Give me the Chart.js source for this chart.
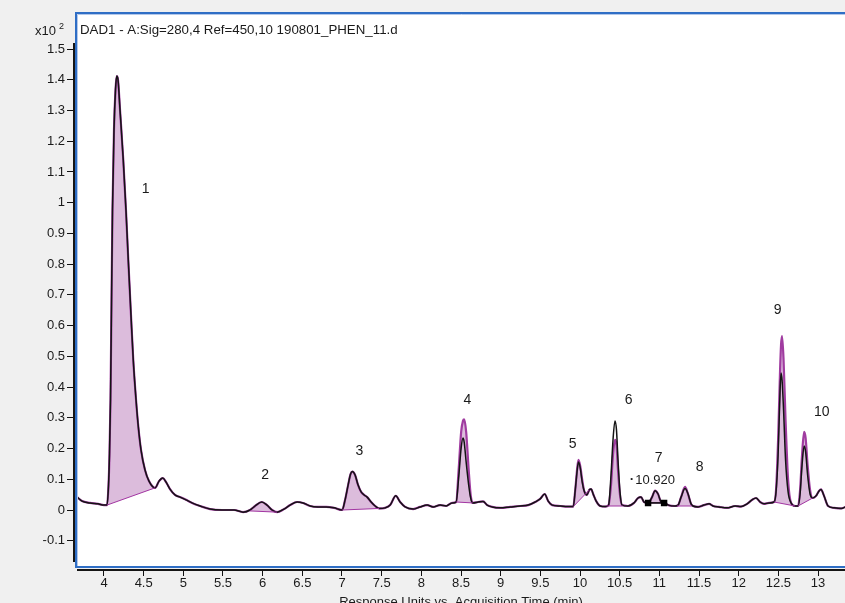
<!DOCTYPE html>
<html><head><meta charset="utf-8">
<script src="https://cdn.jsdelivr.net/npm/chart.js@4.4.1/dist/chart.umd.min.js"></script>
<style>html,body{margin:0;padding:0;background:#f0f0f0;}canvas{display:block;}</style>
</head><body>
<canvas id="c" width="845" height="603"></canvas>
<script>
// ---- data ----
const times = [
 3.660,3.723,3.823,3.924,4.000,4.038,4.057,4.069,4.082,4.095,
 4.107,4.126,4.145,4.160,4.177,4.202,4.243,4.277,4.306,4.340,
 4.369,4.404,4.433,4.467,4.517,4.567,4.643,4.694,4.740,4.782,
 4.832,4.895,4.958,5.034,5.110,5.211,5.337,5.488,5.639,5.753,
 5.841,5.904,5.989,6.055,6.119,6.182,6.270,6.346,6.434,6.509,
 6.598,6.699,6.800,6.900,7.001,7.039,7.077,7.108,7.131,7.165,
 7.203,7.241,7.279,7.317,7.367,7.418,7.468,7.544,7.607,7.678,
 7.733,7.796,7.897,7.985,8.073,8.149,8.237,8.313,8.388,8.439,
 8.470,8.502,8.525,8.540,8.565,8.597,8.622,8.647,8.716,8.779,
 8.830,8.893,8.994,9.120,9.246,9.347,9.435,9.498,9.555,9.599,
 9.650,9.751,9.839,9.915,9.940,9.965,9.981,10.003,10.028,10.053,
 10.087,10.116,10.141,10.166,10.204,10.255,10.318,10.360,10.391,10.416,
 10.441,10.460,10.479,10.504,10.530,10.605,10.681,10.731,10.769,10.807,
 10.858,10.908,10.946,10.984,11.022,11.060,11.123,11.198,11.236,11.274,
 11.324,11.362,11.400,11.425,11.488,11.564,11.627,11.677,11.753,11.854,
 11.955,12.030,12.106,12.169,12.219,12.270,12.320,12.383,12.446,12.471,
 12.497,12.522,12.534,12.547,12.566,12.591,12.623,12.661,12.711,12.749,
 12.774,12.799,12.825,12.844,12.869,12.900,12.932,12.976,13.013,13.038,
 13.076,13.127,13.202,13.291,13.354
];
const purpleSignal = [
 0.042,0.029,0.023,0.020,0.016,0.016,0.081,0.179,0.358,0.683,
 0.976,1.237,1.367,1.412,1.399,1.302,1.139,0.976,0.814,0.635,
 0.488,0.358,0.270,0.195,0.130,0.094,0.072,0.094,0.104,0.091,
 0.068,0.049,0.042,0.033,0.023,0.013,0.003,0.000,0.000,-0.007,
 0.000,0.013,0.026,0.016,0.000,-0.007,0.003,0.016,0.026,0.023,
 0.013,0.010,0.010,0.007,0.000,0.033,0.081,0.117,0.125,0.114,
 0.081,0.059,0.049,0.042,0.026,0.013,0.005,0.007,0.016,0.046,
 0.026,0.010,0.003,0.010,0.016,0.010,0.016,0.013,0.023,0.026,
 0.130,0.254,0.290,0.295,0.254,0.130,0.049,0.023,0.026,0.028,
 0.016,0.010,0.007,0.010,0.013,0.016,0.026,0.036,0.052,0.029,
 0.016,0.013,0.011,0.011,0.065,0.137,0.163,0.143,0.098,0.062,
 0.049,0.065,0.068,0.052,0.029,0.013,0.011,0.016,0.081,0.179,
 0.228,0.212,0.130,0.049,0.016,0.013,0.023,0.039,0.042,0.026,
 0.023,0.042,0.063,0.052,0.026,0.023,0.015,0.013,0.016,0.042,
 0.075,0.052,0.020,0.013,0.010,0.016,0.020,0.013,0.010,0.007,
 0.013,0.011,0.020,0.033,0.039,0.026,0.020,0.023,0.026,0.065,
 0.228,0.456,0.537,0.566,0.488,0.293,0.098,0.023,0.013,0.013,
 0.065,0.179,0.254,0.234,0.146,0.065,0.039,0.046,0.062,0.067,
 0.046,0.013,0.007,0.005,0.011
];
const blackSignal = [
 0.042,0.029,0.023,0.020,0.016,0.016,0.081,0.179,0.358,0.683,
 0.976,1.237,1.367,1.412,1.399,1.302,1.139,0.976,0.814,0.635,
 0.488,0.358,0.270,0.195,0.130,0.094,0.072,0.094,0.104,0.091,
 0.068,0.049,0.042,0.033,0.023,0.013,0.003,0.000,0.000,-0.007,
 0.000,0.013,0.026,0.016,0.000,-0.007,0.003,0.016,0.026,0.023,
 0.013,0.010,0.010,0.007,0.000,0.033,0.081,0.117,0.125,0.114,
 0.081,0.059,0.049,0.042,0.026,0.013,0.005,0.007,0.016,0.046,
 0.026,0.010,0.003,0.010,0.016,0.010,0.016,0.013,0.023,0.026,
 0.104,0.202,0.234,0.221,0.156,0.081,0.039,0.023,0.026,0.028,
 0.016,0.010,0.007,0.010,0.013,0.016,0.026,0.036,0.052,0.029,
 0.016,0.013,0.011,0.011,0.065,0.130,0.156,0.137,0.091,0.062,
 0.049,0.065,0.068,0.052,0.029,0.013,0.011,0.016,0.114,0.228,
 0.290,0.260,0.163,0.059,0.016,0.013,0.023,0.039,0.042,0.026,
 0.023,0.042,0.063,0.052,0.026,0.023,0.015,0.013,0.016,0.042,
 0.070,0.052,0.020,0.013,0.010,0.016,0.020,0.013,0.010,0.007,
 0.013,0.011,0.020,0.033,0.039,0.026,0.020,0.023,0.026,0.059,
 0.179,0.390,0.446,0.423,0.325,0.163,0.059,0.023,0.013,0.013,
 0.052,0.146,0.208,0.189,0.114,0.052,0.039,0.046,0.062,0.067,
 0.046,0.013,0.007,0.005,0.011
];
const xTickValues = [4,4.5,5,5.5,6,6.5,7,7.5,8,8.5,9,9.5,10,10.5,11,11.5,12,12.5,13];
const yTickValues = [-0.1,0,0.1,0.2,0.3,0.4,0.5,0.6,0.7,0.8,0.9,1,1.1,1.2,1.3,1.4,1.5];
const peakNames  = ['1','2','3','4','5','6','7','8','9','10'];
const peakLabelX = [4.524,6.03,7.219,8.581,9.906,10.612,10.990,11.507,12.49,13.047];
const peakLabelY = [1.043,0.114,0.190,0.358,0.215,0.356,0.168,0.139,0.649,0.320];
const baseStartX = [4.038,5.841,7.001,8.439,9.915,10.337,10.858,11.222,12.446,12.749];
const baseStartY = [0.016,-0.003,0.000,0.026,0.011,0.013,0.023,0.013,0.026,0.013];
const baseEndX   = [4.643,6.182,7.468,8.647,10.116,10.539,11.060,11.411,12.711,12.932];
const baseEndY   = [0.072,-0.007,0.005,0.023,0.065,0.013,0.023,0.013,0.013,0.039];
const markerX = [10.858, 11.060];
const markerY = [0.023, 0.023];
const rtLabel = '10.920', rtLabelX = 10.946, rtLabelY = 0.095, rtDotX = 10.652, rtDotY = 0.101;
const chartTitle = 'DAD1 - A:Sig=280,4 Ref=450,10 190801_PHEN_11.d';
const xAxisTitle = 'Response Units vs. Acquisition Time (min)';
const yMultiplier = 'x10', yExponent = '2';

// ---- build datasets ----
const baselineData = [];
peakNames.forEach((n, i) => {
  baselineData.push({x: baseStartX[i], y: baseStartY[i]}, {x: baseEndX[i], y: baseEndY[i]});
  if (i < peakNames.length - 1) baselineData.push({x: (baseEndX[i] + baseStartX[i + 1]) / 2, y: null});
});
const FONT = "'Liberation Sans', Arial, sans-serif";

const decor = {
  id: 'decor',
  beforeDraw(chart) {
    const {ctx, chartArea: a} = chart;
    ctx.save();
    ctx.fillStyle = '#f0f0f0';
    ctx.fillRect(0, 0, chart.width, chart.height);
    ctx.fillStyle = '#ffffff';
    ctx.fillRect(a.left, a.top, a.right - a.left, a.bottom - a.top);
    ctx.restore();
  },
  afterDraw(chart) {
    const {ctx, chartArea: a} = chart;
    const xs = chart.scales.x, ys = chart.scales.y;
    ctx.save();
    // axis lines (outside the frame)
    ctx.strokeStyle = '#151515'; ctx.lineWidth = 2;
    ctx.beginPath(); ctx.moveTo(a.left - 3, ys.getPixelForValue(1.5) - 6); ctx.lineTo(a.left - 3, a.bottom - 4); ctx.stroke();
    ctx.beginPath(); ctx.moveTo(a.left, a.bottom + 4); ctx.lineTo(a.right, a.bottom + 4); ctx.stroke();
    // frame
    ctx.strokeStyle = '#b3c8ea'; ctx.lineWidth = 1;
    ctx.beginPath(); ctx.moveTo(a.left + 0.5, a.bottom); ctx.lineTo(a.left + 0.5, a.top + 0.5); ctx.lineTo(a.right, a.top + 0.5); ctx.stroke();
    ctx.strokeStyle = '#2f6ec5'; ctx.lineWidth = 2;
    ctx.beginPath(); ctx.moveTo(a.right, a.top - 1); ctx.lineTo(a.left - 1, a.top - 1); ctx.lineTo(a.left - 1, a.bottom + 1); ctx.lineTo(a.right, a.bottom + 1); ctx.stroke();
    // texts
    ctx.fillStyle = '#1a1a1a';
    ctx.textBaseline = 'middle';
    ctx.textAlign = 'left';
    ctx.font = '13.3px ' + FONT;
    ctx.fillText(chartTitle, a.left + 3, 30);
    ctx.font = '13px ' + FONT;
    ctx.textAlign = 'right';
    ctx.fillText(yMultiplier, 56, 31);
    ctx.textAlign = 'left';
    ctx.font = '9px ' + FONT;
    ctx.fillText(yExponent, 59, 27);
    ctx.textAlign = 'center';
    ctx.font = '14px ' + FONT;
    peakNames.forEach((n, i) => {
      ctx.fillText(n, xs.getPixelForValue(peakLabelX[i]), ys.getPixelForValue(peakLabelY[i]));
    });
    ctx.font = '13px ' + FONT;
    ctx.fillText(rtLabel, xs.getPixelForValue(rtLabelX), ys.getPixelForValue(rtLabelY));
    ctx.font = '8px ' + FONT;
    ctx.fillText('•', xs.getPixelForValue(rtDotX), ys.getPixelForValue(rtDotY));
    ctx.restore();
  }
};

new Chart(document.getElementById('c'), {
  type: 'line',
  data: {
    datasets: [
      {label: 'RT marker', data: markerX.map((x, i) => ({x, y: markerY[i]})), borderColor: '#000', borderWidth: 1.5,
       pointStyle: 'rect', pointRadius: 3.5, pointBackgroundColor: '#000', pointBorderColor: '#000', fill: false, tension: 0},
      {label: 'Baselines', data: baselineData, borderColor: '#a235a2', borderWidth: 1, pointRadius: 0, tension: 0,
       spanGaps: false, fill: false},
      {label: 'Trace 2', data: times.map((t, i) => ({x: t, y: blackSignal[i]})), borderColor: '#141414', borderWidth: 1.5,
       pointRadius: 0, cubicInterpolationMode: 'monotone', fill: false},
      {label: 'Trace 1', data: times.map((t, i) => ({x: t, y: purpleSignal[i]})), borderColor: '#a03ca0', borderWidth: 2.2,
       pointRadius: 0, cubicInterpolationMode: 'monotone', fill: 1, backgroundColor: '#dcbcdc'}
    ]
  },
  options: {
    responsive: false, animation: false, devicePixelRatio: 1,
    layout: {autoPadding: false, padding: {top: 14, left: 0, right: 0, bottom: 0}},
    plugins: {legend: {display: false}, tooltip: {enabled: false}, title: {display: false}},
    scales: {
      x: {
        type: 'linear', min: 3.6597, max: 13.3403, bounds: 'data',
        afterFit: s => { s.height = 37; s.paddingLeft = 0; s.paddingRight = 0; },
        afterBuildTicks: s => { s.ticks = xTickValues.map(v => ({value: v})); },
        border: {display: false},
        grid: {drawOnChartArea: false, drawTicks: true, tickLength: 10, tickColor: '#111', tickWidth: 1, tickBorderDash: [0, 5, 6, 100]},
        ticks: {autoSkip: false, maxRotation: 0, padding: 1, color: '#1a1a1a',
                font: {family: "'Liberation Sans Narrow', 'Liberation Sans', Arial, sans-serif", size: 13, lineHeight: 1},
                callback: v => String(v)},
        title: {display: true, text: xAxisTitle, color: '#1a1a1a', font: {family: FONT, size: 13}, padding: {top: 0, bottom: -7}}
      },
      y: {
        type: 'linear', min: -0.1822, max: 1.6139, bounds: 'data',
        afterFit: s => { s.width = 77; s.paddingTop = 0; s.paddingBottom = 0; },
        afterBuildTicks: s => { s.ticks = yTickValues.map(v => ({value: v})); },
        border: {display: false},
        grid: {drawOnChartArea: false, drawTicks: true, tickLength: 10, tickColor: '#111', tickWidth: 1, tickBorderDash: [6, 100]},
        ticks: {autoSkip: false, padding: 2, color: '#1a1a1a', font: {family: FONT, size: 13},
                callback: v => String(Math.round(v * 10) / 10)}
      }
    }
  },
  plugins: [decor]
});
</script>
</body></html>
